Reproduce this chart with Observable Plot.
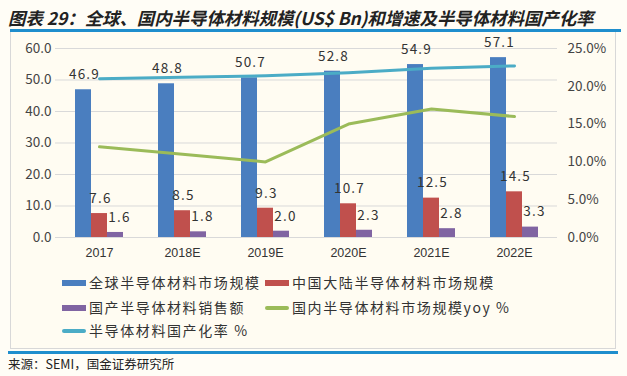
<!DOCTYPE html>
<html><head><meta charset="utf-8">
<script src="https://cdn.jsdelivr.net/npm/d3@7"></script>
<script src="https://cdn.jsdelivr.net/npm/@observablehq/plot@0.6"></script>
<style>
html,body{margin:0;padding:0;background:#fffdf6;}
#page{position:relative;width:627px;height:376px;overflow:hidden;font-family:"Noto Sans CJK SC","Noto Sans",sans-serif;}
#title{position:absolute;left:8px;top:5px;font-size:17.4px;font-weight:bold;font-style:italic;color:#222;white-space:nowrap;}
#topline{position:absolute;left:10px;top:29px;width:611px;height:3px;background:#1f8ecd;}
#frame{position:absolute;left:10px;top:32px;width:604px;height:316px;border:1px solid #d8d8d8;border-top:none;background:#fffcf2;}
#chart{position:absolute;left:0;top:23px;}
#chart svg{overflow:visible;}
#chart g[aria-label="text"] text{letter-spacing:1.2px;}
#botline{position:absolute;left:8px;top:351px;width:610px;height:3px;background:#1f8ecd;}
#source{position:absolute;left:8px;top:354px;font-size:12.5px;color:#222;white-space:nowrap;}
.lg{position:absolute;font-size:14px;color:#333;white-space:nowrap;letter-spacing:1.6px;line-height:16px;}
.sw{position:absolute;}
</style></head>
<body><div id="page">
<div id="title">图表 29：全球、国内半导体材料规模(US$ Bn)和增速及半导体材料国产化率</div>
<div id="topline"></div>
<div id="frame"></div>
<div id="chart"></div>
<div id="legend"></div>
<div id="botline"></div>
<div id="source">来源：SEMI，国金证券研究所</div>
</div>
<script>
const years = ["2017","2018E","2019E","2020E","2021E","2022E"];
const globalMarket = [46.9,48.8,50.7,52.8,54.9,57.1];
const chinaMarket = [7.6,8.5,9.3,10.7,12.5,14.5];
const domesticSales = [1.6,1.8,2.0,2.3,2.8,3.3];
const chinaYoy = [12.0,11.0,10.0,15.0,17.0,16.0];
const localizationRate = [21.0,21.2,21.4,21.8,22.4,22.7];
const leftTicks = [0,10,20,30,40,50,60];
const rightTicks = [0,5,10,15,20,25];
const seriesNames = ["全球半导体材料市场规模","中国大陆半导体材料市场规模","国产半导体材料销售额","国内半导体材料市场规模yoy %","半导体材料国产化率 %"];
const colors = ["#4a7ebf","#c0504d","#8064a2","#9bbb59","#4bacc6"];

const k = 60/25; // right axis -> left axis units
const rows = years.map((y,i)=>({year:y,g:globalMarket[i],c:chinaMarket[i],d:domesticSales[i],yoy:chinaYoy[i],rate:localizationRate[i]}));
const fmt1 = d => d.toFixed(1);
const font = "Noto Sans CJK SC";

const plot = Plot.plot({
  width:627, height:245,
  marginLeft:55, marginRight:70, marginTop:25, marginBottom:31,
  style:{background:"transparent", fontFamily:font},
  x:{type:"band", domain:years, paddingInner:0.809, paddingOuter:0.4045},
  y:{domain:[0,60]},
  marks:[
    Plot.ruleY(leftTicks,{stroke:"#d9d9d9", strokeWidth:1}),
    Plot.barY(rows,{x:"year", y:"g", fill:colors[0], dx:-16}),
    Plot.barY(rows,{x:"year", y:"c", fill:colors[1], dx:0}),
    Plot.barY(rows,{x:"year", y:"d", fill:colors[2], dx:16}),
    Plot.line(rows,{x:"year", y:d=>d.yoy*k, stroke:colors[3], strokeWidth:3}),
    Plot.line(rows,{x:"year", y:d=>d.rate*k, stroke:colors[4], strokeWidth:3}),
    Plot.text(rows,{x:"year", y:"g", text:d=>fmt1(d.g), dx:-15, dy:-15, fontSize:13.5, fill:"#333", fontFamily:font}),
    Plot.text(rows,{x:"year", y:"c", text:d=>fmt1(d.c), dx:1, dy:-15, fontSize:13.5, fill:"#333", fontFamily:font}),
    Plot.text(rows,{x:"year", y:"d", text:d=>fmt1(d.d), dx:20, dy:-15, fontSize:13.5, fill:"#333", fontFamily:font}),
    Plot.axisY({ticks:leftTicks, tickFormat:fmt1, tickSize:0, tickPadding:4, label:null, fontSize:13.5, color:"#444", fontFamily:font}),
    Plot.axisY({anchor:"right", ticks:rightTicks.map(t=>t*k), tickFormat:d=>(d/k).toFixed(1)+"%", tickSize:0, tickPadding:10, label:null, fontSize:13.5, color:"#444", fontFamily:font}),
    Plot.axisX({tickSize:0, tickPadding:11, label:null, fontSize:12.5, color:"#333", fontFamily:"Liberation Sans"})
  ]
});
document.getElementById("chart").appendChild(plot);

// legend
const lg = document.getElementById("legend");
const pos = [[62,283,"bar"],[265,283,"bar"],[62,308,"bar"],[265,308,"line"],[62,331,"line"]];
seriesNames.forEach((name,i)=>{
  const [x,y,type] = pos[i];
  const sw = document.createElement("div");
  sw.className="sw";
  sw.style.left=x+"px"; sw.style.width="24px";
  sw.style.background=colors[i];
  if(type==="bar"){sw.style.top=(y-3)+"px"; sw.style.height="6px";}
  else {sw.style.top=(y-2)+"px"; sw.style.height="4px"; sw.style.borderRadius="2px";}
  lg.appendChild(sw);
  const t = document.createElement("div");
  t.className="lg"; t.textContent=name;
  t.style.left=(x+27)+"px"; t.style.top=(y-9)+"px";
  lg.appendChild(t);
});
</script>
</body></html>
